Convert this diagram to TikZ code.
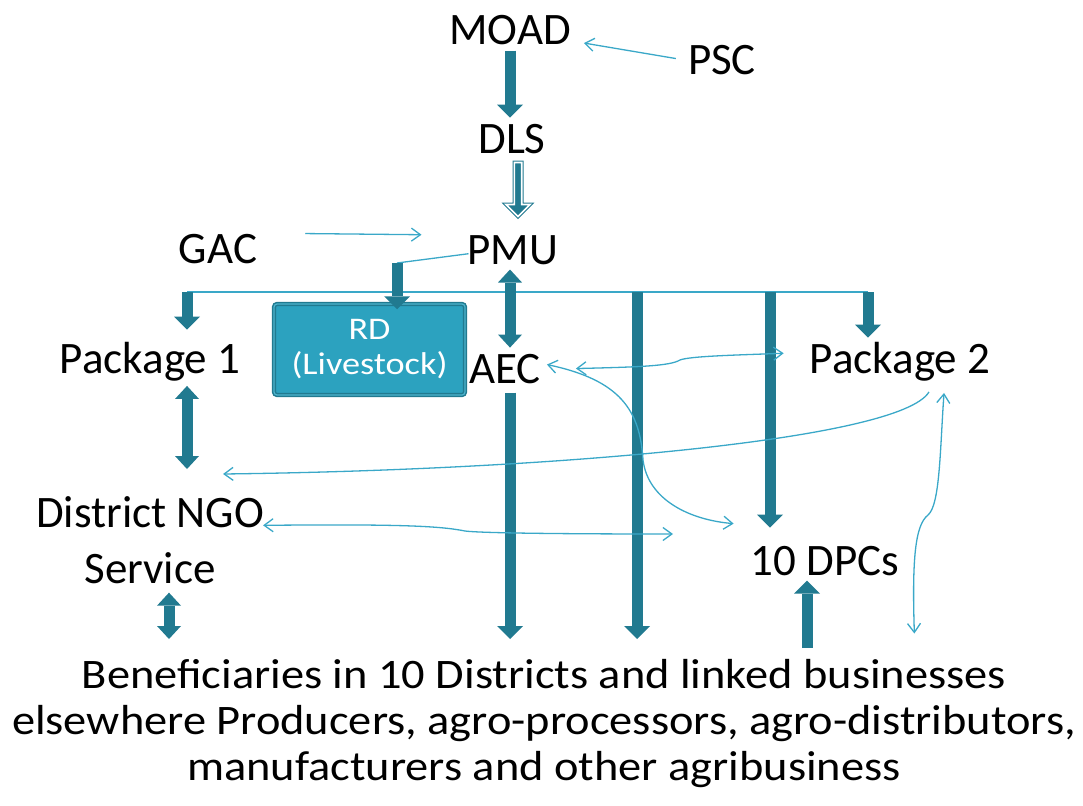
\documentclass[tikz,border=0pt]{standalone}
\usepackage{fontspec}
\setmainfont{Carlito}
\newfontfamily\widefont[FakeStretch=1.105]{Carlito}
\newfontfamily\rdfont[FakeStretch=1.15]{Carlito}
\usetikzlibrary{arrows.meta,calc}

\definecolor{barcol}{HTML}{217A90}
\definecolor{linecol}{HTML}{3AA8C8}
\definecolor{rdfill}{HTML}{2CA2BF}
\definecolor{rdgap}{HTML}{4DB4CD}

\tikzset{
  lbl/.style={font=\fontsize{45}{56}\selectfont, inner sep=2pt, anchor=base},
  bar/.style={draw=barcol, line width=11pt, -{Triangle[width=26pt,length=13pt,line width=0pt]}},
  dbar/.style={draw=barcol, line width=11pt,
    {Triangle[width=24pt,length=13pt,line width=0pt]}-{Triangle[width=24pt,length=13pt,line width=0pt]}},
  link/.style={draw=linecol, line width=1.3pt},
  linkto/.style={link, -{Straight Barb[length=9pt,width=13pt]}},
  linkboth/.style={link, {Straight Barb[length=9pt,width=13pt]}-{Straight Barb[length=9pt,width=13pt]}},
}

\begin{document}
\begin{tikzpicture}[x=1pt,y=-1pt]
\useasboundingbox (0,0) rectangle (1083,805);

	% labels
	\node[lbl] (MOAD) at (510,45) {MOAD};
	\node[lbl] (PSC) at (722,75) {PSC};
	\node[lbl] (DLS) at (512,154) {DLS};
	\node[lbl] (PMU) at (513,264) {PMU};
	\node[lbl] (GAC) at (218,263) {GAC};
	\node[lbl] (pkgone) at (150,373) {Package 1};
	\node[lbl] (AEC) at (505,383) {AEC};
	\node[lbl] (pkgtwo) at (900,373) {Package 2};
	\node[lbl] (DPC) at (825,575) {10 DPCs};
	\node[lbl, align=center, anchor=north] (NGO) at (150,494) {District NGO\\Service};
	\node[font=\widefont\fontsize{42}{46}\selectfont, inner sep=2pt, align=center, anchor=north] (benef) at (544,657)
		{Beneficiaries in 10 Districts and linked businesses\\elsewhere Producers, agro-processors, agro-distributors,\\manufacturers and other agribusiness};

	% the rail under PMU
	\coordinate (railL) at (187,292);
	\coordinate (railR) at (868,292);
	\coordinate (railA) at (637,292);
	\coordinate (railB) at (770,292);
	\draw[link] (railL) -- (railR);

	\node[draw=barcol, line width=1.5pt, double=rdgap, double distance=1.2pt, fill=rdfill,
		rounded corners=3pt, minimum width=191pt, minimum height=91pt, inner sep=0pt,
		text=white, font=\rdfont\fontsize{31.5}{35}\selectfont, align=center] (RD) at (369.5,349.5) {RD\\(Livestock)};

	% thick arrows
	\draw[bar, shorten <=3pt, shorten >=5pt] (MOAD.south) -- (MOAD.south |- DLS.north);
	\draw[draw=barcol, double=white, double distance=1.6pt, line width=1pt, fill=barcol,
		shift={($(DLS.south)+(6,4)$)}]
		(-3.7,2) -- (3.7,2) -- (3.7,44) -- (12,44) -- (0,56) -- (-12,44) -- (-3.7,44) -- cycle;
	\draw[dbar] ($(PMU.south)+(-3,3)$) -- ($(AEC.north)+(5,-4)$);
	\coordinate (aecbot) at ($(AEC.south)+(5,7)$);
	\draw[bar, shorten >=18pt] (aecbot) -- (aecbot |- benef.north);
	\draw[bar, shorten >=10pt] (railL) -- (railL |- pkgone.north);
	\draw[bar, shorten >=2pt] (railR) -- (railR |- pkgtwo.north);
	\draw[bar, shorten >=18pt] (railA) -- (railA |- benef.north);
	\draw[bar, shorten >=16pt] (railB) -- (railB |- DPC.north);
	\coordinate (rdtop) at (397,263);
	\draw[link] ($(PMU.west)+(3,4)$) -- (rdtop);
	\draw[bar, shorten >=-6pt] (rdtop) -- (rdtop |- RD.north);
	\coordinate (pkgbot) at ($(pkgone.south)+(37,3)$);
	\draw[dbar, shorten >=25pt] (pkgbot) -- (pkgbot |- NGO.north);
	\coordinate (ngobot) at ($(NGO.south)+(19,7)$);
	\draw[dbar, shorten >=18pt] (ngobot) -- (ngobot |- benef.north);
	\coordinate (dpcfoot) at (807,648);
	\draw[bar, shorten >=3pt] (dpcfoot) -- (dpcfoot |- DPC.south);

	% thin links
	\draw[linkto] ($(PSC.west)+(-10,-2)$) -- ($(MOAD.east)+(11,12.5)$);
	\draw[linkto] ($(GAC.east)+(46,-15)$) -- ($(PMU.west)+(-44,-15)$);
	\draw[linkboth] ($(AEC.east)+(33,0)$) .. controls (640,367) and (670,366) .. (680,360)
		.. controls (690,356) and (740,355) .. ($(pkgtwo.west)+(-24,-8)$);
	\draw[linkboth] ($(AEC.east)+(4,-4)$) .. controls (620,380) and (640,410) .. (643,460)
		.. controls (648,500) and (690,520) .. ($(DPC.north west)+(-15,-20)$);
	\draw[linkto] ($(pkgtwo.south)+(29,9)$) .. controls (900,440) and (550,470) .. ($(NGO.north east)+(-43,-20)$);
	\coordinate (ngoend) at (673,534);
	\draw[linkboth] ($(NGO.east)+(-3,-14.5)$) .. controls (400,524) and (440,526) .. (465,531)
		.. controls (480,533) and (560,534) .. (ngoend);
	\draw[linkboth] ($(DPC.south east)+(13,56)$) .. controls (912,560) and (915,525) .. (928,515)
		.. controls (940,505) and (940,450) .. ($(pkgtwo.south)+(44,10)$);

\end{tikzpicture}
\end{document}
